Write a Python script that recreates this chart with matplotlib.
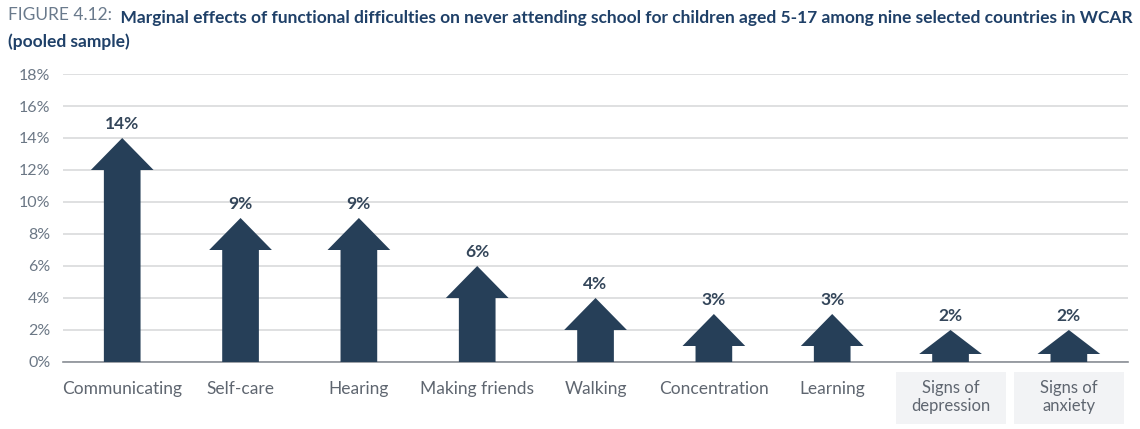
import matplotlib
matplotlib.use("Agg")
import matplotlib.pyplot as plt
from matplotlib.patches import Rectangle

categories = ["Communicating", "Self-care", "Hearing", "Making friends", "Walking",
              "Concentration", "Learning", "Signs of\ndepression", "Signs of\nanxiety"]
values = [14, 9, 9, 6, 4, 3, 3, 2, 2]
labels = ["14%", "9%", "9%", "6%", "4%", "3%", "3%", "2%", "2%"]
boxed = [False] * 7 + [True, True]
yticks = [0, 2, 4, 6, 8, 10, 12, 14, 16, 18]

FONT = ["Lato", "DejaVu Sans"]
plt.rcParams['font.family'] = FONT

navy = "#263f58"
fig = plt.figure(figsize=(11.4, 4.29), dpi=100)
ax = fig.add_axes([0.0553, 0.1562, 0.9342, 0.6713])

shaft_w = 0.31
head_w = 0.53
for i, v in enumerate(values):
    hl = min(2.0, 0.75 * v)
    xs = [i - shaft_w / 2, i - shaft_w / 2, i - head_w / 2, i, i + head_w / 2, i + shaft_w / 2, i + shaft_w / 2]
    ys = [0, v - hl, v - hl, v, v - hl, v - hl, 0]
    ax.fill(xs, ys, color=navy, lw=0, zorder=3)
    ax.text(i, v + 0.4, labels[i], ha='center', va='bottom', fontsize=12.5,
            fontweight='bold', color="#34465a", zorder=4)

ax.set_xlim(-0.5, len(values) - 0.5)
ax.set_ylim(0, 18)
ax.set_yticks(yticks)
ax.set_yticklabels([f"{t}%" for t in yticks], fontsize=11.5, color="#6b7785")
ax.yaxis.grid(True, color="#d9dadc", lw=1.2)
ax.set_axisbelow(True)
ax.tick_params(axis='y', length=0, pad=9)
ax.set_xticks([])
for s in ['top', 'right', 'left']:
    ax.spines[s].set_visible(False)
ax.spines['bottom'].set_color("#8a8f96")
ax.spines['bottom'].set_linewidth(1.2)

for i, c in enumerate(categories):
    if boxed[i]:
        ax.text(i, -1.15, c, ha='center', va='top', fontsize=12, color="#5f6670",
                linespacing=1.1)
        ax.add_patch(Rectangle((i - 0.465, -3.85), 0.93, 3.2, facecolor="#f2f3f5",
                               edgecolor='none', clip_on=False, zorder=0))
    else:
        ax.text(i, -1.2, c, ha='center', va='top', fontsize=12.5, color="#5f6670")

t1 = fig.text(8 / 1140, 1 - 20 / 429, "FIGURE 4.12:", fontsize=12.5, fontweight='normal',
              color="#6a7a8c", va='baseline', ha='left')
fig.canvas.draw()
ax.annotate("  Marginal effects of functional difficulties on never attending school for children aged 5-17 among nine selected countries in WCAR",
            xy=(1, 0), xycoords=t1, va='baseline', ha='left', fontsize=12.5,
            fontweight='bold', color="#1f4068", annotation_clip=False)
fig.text(8 / 1140, 1 - 47 / 429, "(pooled sample)", fontsize=12.5, fontweight='bold',
         color="#1f4068", va='baseline', ha='left')

fig.savefig("out.png", dpi=100)
